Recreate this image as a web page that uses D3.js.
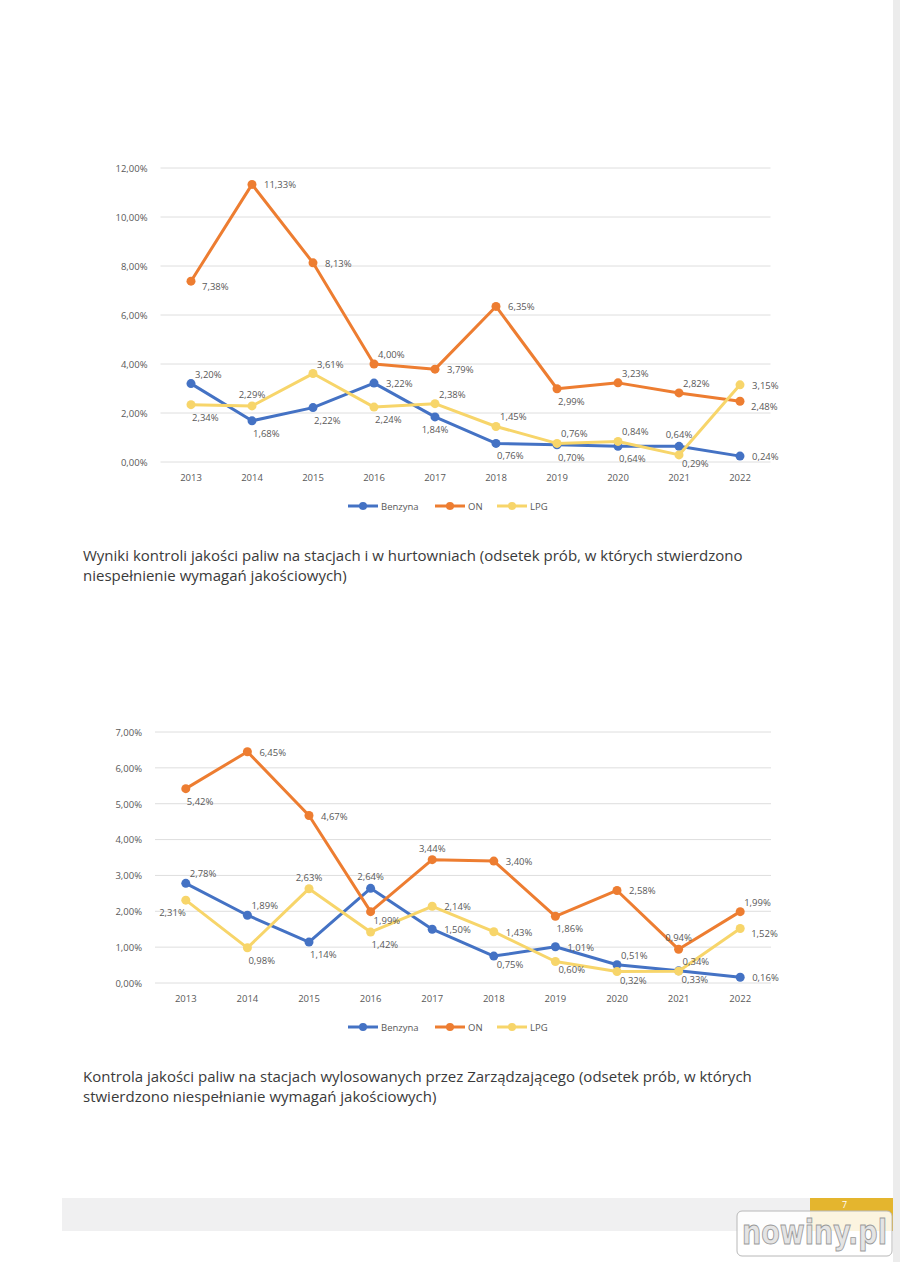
<!DOCTYPE html>
<html>
<head>
<meta charset="utf-8">
<script src="https://cdn.jsdelivr.net/npm/d3@7"></script>
<style>
  body { margin: 0; background: #fff; }
  svg { display: block; }
  .tick text { font-family: "Open Sans", sans-serif; font-size: 9.5px; fill: #595959; }
  .lbl { font-family: "Open Sans", sans-serif; font-size: 9.5px; fill: #595959; }
  .caption { font-family: "Open Sans", sans-serif; font-size: 15px; fill: #3a3a3a; }
</style>
</head>
<body>
<script>
// data
var years = ["2013", "2014", "2015", "2016", "2017", "2018", "2019", "2020", "2021", "2022"];
var seriesNames = ["Benzyna", "ON", "LPG"];

// chart 1: stacje i hurtownie
var benzyna1 = [3.20, 1.68, 2.22, 3.22, 1.84, 0.76, 0.70, 0.64, 0.64, 0.24];
var on1      = [7.38, 11.33, 8.13, 4.00, 3.79, 6.35, 2.99, 3.23, 2.82, 2.48];
var lpg1     = [2.34, 2.29, 3.61, 2.24, 2.38, 1.45, 0.76, 0.84, 0.29, 3.15];
var ticks1   = [0, 2, 4, 6, 8, 10, 12];

// chart 2: stacje wylosowane
var benzyna2 = [2.78, 1.89, 1.14, 2.64, 1.50, 0.75, 1.01, 0.51, 0.34, 0.16];
var on2      = [5.42, 6.45, 4.67, 1.99, 3.44, 3.40, 1.86, 2.58, 0.94, 1.99];
var lpg2     = [2.31, 0.98, 2.63, 1.42, 2.14, 1.43, 0.60, 0.32, 0.33, 1.52];
var ticks2   = [0, 1, 2, 3, 4, 5, 6, 7];

// where each data label sits relative to its point
var place1 = [
  ["ar", "br", "br", "r", "b", "br", "br", "br", "a", "r"],
  ["rb", "r", "r", "ar", "r", "r", "br", "ar", "ar", "rb"],
  ["br", "a", "ar", "br", "ar", "ar", "ar", "ar", "bs", "r"]
];
var place2 = [
  ["ar", "ar", "br", "a", "r", "bs", "r", "ar", "ar", "r"],
  ["br", "r", "r", "bs", "a", "r", "br", "r", "a", "ar"],
  ["bl", "br", "a", "br", "r", "r", "bs", "bs", "bs", "rb"]
];

var colors = ["#4472C4", "#ED7D31", "#F7D56A"];

var captions1 = ["Wyniki kontroli jakości paliw na stacjach i w hurtowniach (odsetek prób, w których stwierdzono",
                 "niespełnienie wymagań jakościowych)"];
var captions2 = ["Kontrola jakości paliw na stacjach wylosowanych przez Zarządzającego (odsetek prób, w których",
                 "stwierdzono niespełnianie wymagań jakościowych)"];

var width = 900, height = 1262;

var svg = d3.select("body").append("svg")
    .attr("width", width)
    .attr("height", height);

svg.append("rect").attr("width", width).attr("height", height).attr("fill", "#fff");

// label offsets: [dx, dy, anchor]
var offsets = {
  r:  [12, 4, "start"],
  rb: [11, 9, "start"],
  a:  [0, -8, "middle"],
  ar: [4, -6, "start"],
  b:  [0, 16, "middle"],
  br: [1, 16, "start"],
  bs: [3, 12, "start"],
  bl: [0, 16, "end"]
};

function fmt(v) {
  return v.toFixed(2).replace(".", ",") + "%";
}

function drawChart(opt) {
  var g = svg.append("g");

  var x = d3.scaleBand().domain(years).range([opt.left, opt.right]);
  var y = d3.scaleLinear().domain([0, d3.max(opt.ticks)]).range([opt.bottom, opt.top]);

  // gridlines
  g.selectAll(".grid").data(opt.ticks).enter().append("line")
    .attr("x1", opt.left).attr("x2", opt.right)
    .attr("y1", function(d) { return y(d); })
    .attr("y2", function(d) { return y(d); })
    .attr("stroke", "#dedede").attr("stroke-width", 1);

  // y axis
  var yAxis = g.append("g")
    .attr("transform", "translate(" + (opt.left - 10) + ",0)")
    .call(d3.axisLeft(y).tickValues(opt.ticks).tickSize(0).tickFormat(fmt));
  yAxis.select(".domain").remove();
  yAxis.selectAll("text").attr("dy", "0.35em");

  // x axis
  var xAxis = g.append("g")
    .attr("transform", "translate(0," + opt.bottom + ")")
    .call(d3.axisBottom(x).tickSize(0).tickPadding(12));
  xAxis.select(".domain").remove();

  var line = d3.line()
    .x(function(d, i) { return x(years[i]) + x.bandwidth() / 2; })
    .y(function(d) { return y(d); });

  opt.series.forEach(function(vals, s) {
    var sg = g.append("g");
    sg.append("path").datum(vals)
      .attr("d", line)
      .attr("fill", "none")
      .attr("stroke", colors[s])
      .attr("stroke-width", 3)
      .attr("stroke-linejoin", "round");
    sg.selectAll("circle").data(vals).enter().append("circle")
      .attr("cx", function(d, i) { return x(years[i]) + x.bandwidth() / 2; })
      .attr("cy", function(d) { return y(d); })
      .attr("r", 4.5)
      .attr("fill", colors[s]);
  });

  // labels on top of all lines
  opt.series.forEach(function(vals, s) {
    g.selectAll(".lbl" + s).data(vals).enter().append("text")
      .attr("class", "lbl")
      .attr("x", function(d, i) { return x(years[i]) + x.bandwidth() / 2 + offsets[opt.place[s][i]][0]; })
      .attr("y", function(d, i) { return y(d) + offsets[opt.place[s][i]][1]; })
      .attr("text-anchor", function(d, i) { return offsets[opt.place[s][i]][2]; })
      .text(fmt);
  });

  // legend
  var lx = [348, 435, 497];
  seriesNames.forEach(function(name, s) {
    var lg = g.append("g").attr("transform", "translate(" + lx[s] + "," + opt.legendY + ")");
    lg.append("line").attr("x1", 0).attr("x2", 30).attr("y1", 0).attr("y2", 0)
      .attr("stroke", colors[s]).attr("stroke-width", 3);
    lg.append("circle").attr("cx", 15).attr("cy", 0).attr("r", 4).attr("fill", colors[s]);
    lg.append("text").attr("class", "lbl").attr("x", 33).attr("y", 3.5).text(name);
  });

  // caption
  g.selectAll(".caption").data(opt.captions).enter().append("text")
    .attr("class", "caption")
    .attr("x", 83)
    .attr("y", function(d, i) { return opt.captionY + i * 20; })
    .text(function(d) { return d; });
}

drawChart({
  left: 160.5, right: 770.5, top: 168, bottom: 462,
  ticks: ticks1, series: [benzyna1, on1, lpg1], place: place1,
  legendY: 506, captions: captions1, captionY: 561
});

drawChart({
  left: 155, right: 771, top: 732, bottom: 983,
  ticks: ticks2, series: [benzyna2, on2, lpg2], place: place2,
  legendY: 1027, captions: captions2, captionY: 1082
});

// page edge and footer
svg.append("rect").attr("x", 893).attr("y", 0).attr("width", 7).attr("height", height).attr("fill", "#ececec");
svg.append("rect").attr("x", 62).attr("y", 1198).attr("width", 748).attr("height", 33).attr("fill", "#f0f0f1");
svg.append("rect").attr("x", 810).attr("y", 1198).attr("width", 83).attr("height", 33).attr("fill", "#E4B52E");
svg.append("text").attr("x", 842).attr("y", 1208).attr("fill", "#fff")
  .style("font-family", "Open Sans, sans-serif").style("font-size", "9px").text("7");

// watermark
svg.append("rect").attr("x", 737).attr("y", 1211).attr("width", 155).attr("height", 45).attr("rx", 5)
  .attr("fill", "rgba(255,255,255,0.85)").attr("stroke", "#b8b8b8").attr("stroke-width", 1);
var wm = svg.append("text").attr("x", 0).attr("y", 0)
  .attr("fill", "#e4e4e4").attr("stroke", "#9a9a9a").attr("stroke-width", 0.8)
  .style("font-family", "'DejaVu Sans Condensed', sans-serif")
  .style("font-weight", "bold").style("font-size", "30px")
  .text("nowiny.pl");
// squeeze the word into the box (narrow, tall letters)
var wmW = wm.node().getComputedTextLength();
wm.attr("transform", "translate(742,1244) scale(" + (145 / wmW) + ",1.15)");
</script>
</body>
</html>
